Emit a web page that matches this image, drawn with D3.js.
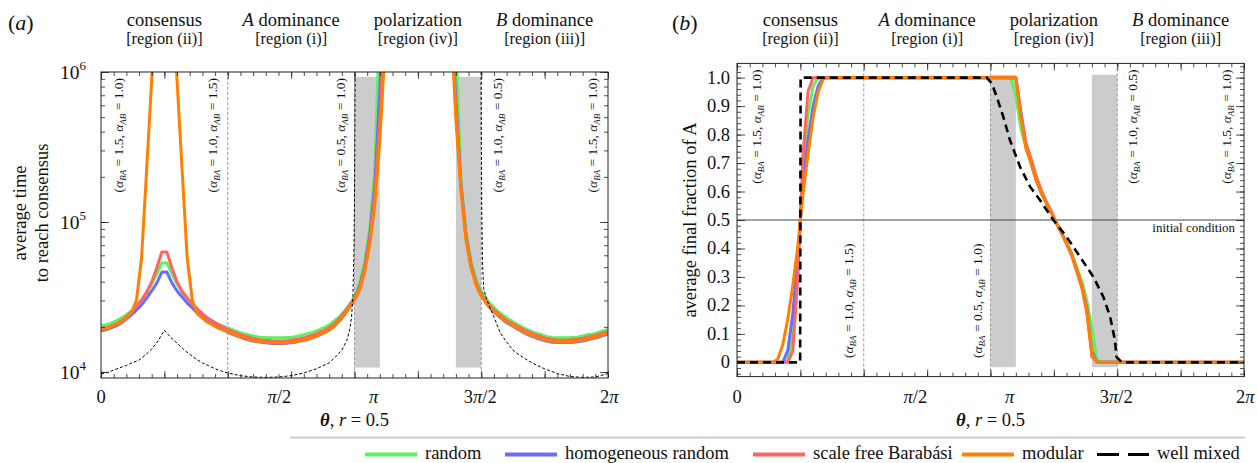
<!DOCTYPE html>
<html>
<head>
<meta charset="utf-8">
<script src="https://cdn.jsdelivr.net/npm/d3@7"></script>
<style>
  body { margin: 0; background: #fff; }
  svg text { font-family: "Liberation Serif", "Times New Roman", serif; fill: #111; }
</style>
</head>
<body>
<div id="chart"></div>
<script>
const PI = Math.PI;
const width = 1257, height = 463;

// simulation grid: 101 angles, step 2π/100
const thetaGrid = d3.range(101).map(k => k * PI / 50);

const seriesNames = ["random", "homogeneous random", "scale free Barabási", "modular"];
const seriesColors = ["#5ef05e", "#6b6bff", "#ff6464", "#ff8000"];

// (a) average time to reach consensus, thousands of steps (null = no consensus / off scale)
const timeRandom = [
  20.3, 20.6, 21.2, 21.9, 22.9, 24.0, 25.5, 27.5, 30.2, 33.7,
  38.6, 45.0, 53.3, 53.3, 45.0, 38.6, 34.1, 30.7, 28.0, 25.9,
  24.4, 22.9, 21.9, 20.9, 20.3, 19.7, 19.1, 18.5, 18.1, 17.7,
  17.4, 17.1, 17.0, 16.9, 16.9, 16.9, 16.9, 17.0, 17.1, 17.4,
  17.7, 18.1, 18.5, 19.1, 19.8, 20.6, 21.9, 23.3, 25.5, 28.0,
  31.6, 39.2, 54.1, 91.2, 222, 2440, null, null, null, null,
  null, null, null, null, null, null, null, null, null, null,
  1585, 190.5, 85.8, 54.1, 41.1, 34.7, 30.7, 28.0, 25.9, 24.4,
  22.9, 21.9, 20.9, 20.0, 19.2, 18.6, 18.1, 17.7, 17.2, 17.0,
  16.9, 16.9, 16.9, 17.0, 17.1, 17.4, 17.7, 17.9, 18.3, 18.8, 19.2];
const timeHomogeneous = [
  18.8, 19.1, 19.7, 20.3, 21.2, 22.6, 24.0, 25.9, 28.0, 31.1,
  34.7, 39.2, 46.4, 46.4, 39.2, 34.7, 31.6, 28.8, 26.7, 24.7,
  23.3, 21.9, 20.9, 20.0, 19.2, 18.4, 17.8, 17.3, 16.8, 16.4,
  16.1, 15.9, 15.7, 15.6, 15.5, 15.5, 15.5, 15.6, 15.7, 16.0,
  16.2, 16.6, 17.0, 17.6, 18.2, 19.0, 20.2, 21.9, 24.2, 27.1,
  30.7, 37.2, 50.1, 81.0, 175, 759, 4100, null, null, null,
  null, null, null, null, null, null, null, null, null, 3020,
  651, 176, 80.9, 51.8, 39.2, 33.1, 28.6, 26.1, 24.2, 22.7,
  21.3, 20.4, 19.5, 18.6, 17.9, 17.3, 16.8, 16.4, 16.0, 15.8,
  15.7, 15.7, 15.7, 15.8, 15.9, 16.1, 16.4, 16.7, 17.0, 17.5, 17.9];
const timeScaleFree = [
  19.4, 19.7, 20.3, 20.9, 21.9, 23.3, 25.1, 27.5, 30.2, 34.1,
  39.8, 49.4, 63.1, 63.1, 49.4, 39.8, 34.7, 31.1, 28.4, 26.3,
  24.4, 22.9, 21.9, 20.9, 20.0, 19.2, 18.6, 18.0, 17.5, 17.1,
  16.7, 16.5, 16.3, 16.2, 16.1, 16.1, 16.1, 16.2, 16.4, 16.6,
  16.9, 17.3, 17.7, 18.3, 18.9, 19.8, 21.0, 22.7, 24.9, 27.8,
  31.0, 36.5, 49.0, 76.0, 150, 480, 2500, null, null, null,
  null, null, null, null, null, null, null, null, null, 2600,
  560, 170, 78.0, 50.5, 38.6, 32.6, 29.4, 26.9, 25.0, 23.5,
  22.1, 21.2, 20.3, 19.4, 18.7, 18.1, 17.5, 17.1, 16.7, 16.5,
  16.3, 16.3, 16.3, 16.5, 16.6, 16.8, 17.1, 17.4, 17.7, 18.2, 18.6];
const timeModular = [
  19.1, 19.4, 20.0, 20.6, 21.5, 22.9, 24.7, 30.2, 57.5, 222,
  884, 3260, 7590, 7590, 3260, 884, 222, 57.5, 30.2, 24.4,
  22.9, 21.5, 20.6, 19.7, 19.1, 18.5, 17.9, 17.4, 16.9, 16.5,
  16.2, 16.0, 15.85, 15.7, 15.6, 15.6, 15.6, 15.7, 15.85, 16.1,
  16.3, 16.8, 17.1, 17.7, 18.3, 19.1, 20.3, 21.9, 24.0, 26.7,
  30.2, 35.2, 46.4, 70.3, 130, 352, 1400, null, null, null,
  null, null, null, null, null, null, null, null, null, 2220,
  479, 163, 75.9, 49.4, 38.0, 32.1, 28.8, 26.3, 24.4, 22.9,
  21.5, 20.6, 19.7, 18.8, 18.1, 17.5, 17.0, 16.6, 16.2, 16.0,
  15.85, 15.85, 15.85, 16.0, 16.1, 16.3, 16.6, 16.9, 17.2, 17.7, 18.1];

// (a) well mixed: angle in units of π, time in thousands
const wellMixedThetaA = [0, 0.025, 0.05, 0.075, 0.1, 0.125, 0.15, 0.175, 0.2, 0.225,
  0.25, 0.275, 0.3, 0.325, 0.35, 0.375, 0.4, 0.425, 0.45, 0.475,
  0.5, 0.55, 0.6, 0.65, 0.7, 0.75, 0.8, 0.85, 0.9, 0.925,
  0.95, 0.97, 0.98, 0.988, 0.994, 0.998, 1.0, 1.002, 1.003, 1.25,
  1.499, 1.5, 1.502, 1.505, 1.51, 1.52, 1.535, 1.55, 1.575, 1.6,
  1.625, 1.65, 1.7, 1.75, 1.8, 1.85, 1.9, 1.95, 2.0];
const wellMixedTimeA = [9.7, 9.92, 10.3, 10.7, 11.05, 11.55, 12.0, 13.0, 14.2, 16.1,
  19.0, 17.0, 15.6, 14.2, 13.1, 12.2, 11.5, 11.0, 10.5, 10.15,
  9.85, 9.45, 9.26, 9.2, 9.26, 9.45, 9.85, 10.5, 11.5, 12.6,
  14.0, 16.3, 18.8, 22.9, 32.6, 65, 140, 650, 2000, null,
  2000, 479, 120, 51.8, 35.8, 31.1, 26.7, 23.3, 18.2, 15.85,
  14.0, 12.98, 11.5, 10.5, 9.77, 9.33, 9.2, 9.26, 9.77];

// (b) average final fraction of A
const fracRandom = [
  0, 0, 0, 0, 0, 0, 0, 0, 0, 0,
  0.01, 0.10, 0.34, 0.66, 0.87, 0.97, 1, 1, 1, 1,
  1, 1, 1, 1, 1, 1, 1, 1, 1, 1,
  1, 1, 1, 1, 1, 1, 1, 1, 1, 1,
  1, 1, 1, 1, 1, 1, 1, 1, 1, 1,
  1, 1, 1, 1, 1, 0.935, 0.82, 0.755, 0.70, 0.645,
  0.60, 0.56, 0.525, 0.49, 0.455, 0.42, 0.385, 0.335, 0.285, 0.215,
  0.12, 0.01, 0, 0, 0, 0, 0, 0, 0, 0,
  0, 0, 0, 0, 0, 0, 0, 0, 0, 0,
  0, 0, 0, 0, 0, 0, 0, 0, 0, 0, 0];
const fracHomogeneous = [
  0, 0, 0, 0, 0, 0, 0, 0, 0, 0,
  0.04, 0.17, 0.37, 0.62, 0.78, 0.90, 0.97, 1, 1, 1,
  1, 1, 1, 1, 1, 1, 1, 1, 1, 1,
  1, 1, 1, 1, 1, 1, 1, 1, 1, 1,
  1, 1, 1, 1, 1, 1, 1, 1, 1, 1,
  1, 1, 1, 1, 1, 1, 0.88, 0.765, 0.70, 0.64,
  0.595, 0.56, 0.525, 0.49, 0.455, 0.42, 0.38, 0.325, 0.27, 0.19,
  0.04, 0, 0, 0, 0, 0, 0, 0, 0, 0,
  0, 0, 0, 0, 0, 0, 0, 0, 0, 0,
  0, 0, 0, 0, 0, 0, 0, 0, 0, 0, 0];
const fracScaleFree = [
  0, 0, 0, 0, 0, 0, 0, 0, 0, 0,
  0, 0.04, 0.30, 0.72, 0.95, 1, 1, 1, 1, 1,
  1, 1, 1, 1, 1, 1, 1, 1, 1, 1,
  1, 1, 1, 1, 1, 1, 1, 1, 1, 1,
  1, 1, 1, 1, 1, 1, 1, 1, 1, 1,
  1, 1, 1, 1, 1, 1, 0.87, 0.77, 0.715, 0.655,
  0.605, 0.565, 0.53, 0.49, 0.455, 0.415, 0.375, 0.32, 0.262, 0.175,
  0.02, 0, 0, 0, 0, 0, 0, 0, 0, 0,
  0, 0, 0, 0, 0, 0, 0, 0, 0, 0,
  0, 0, 0, 0, 0, 0, 0, 0, 0, 0, 0];
const fracModular = [
  0, 0, 0, 0, 0, 0, 0, 0, 0.01, 0.06,
  0.15, 0.27, 0.41, 0.59, 0.73, 0.86, 0.95, 0.995, 1, 1,
  1, 1, 1, 1, 1, 1, 1, 1, 1, 1,
  1, 1, 1, 1, 1, 1, 1, 1, 1, 1,
  1, 1, 1, 1, 1, 1, 1, 1, 1, 1,
  1, 1, 1, 1, 1, 1, 0.86, 0.75, 0.70, 0.64,
  0.595, 0.56, 0.525, 0.49, 0.455, 0.42, 0.38, 0.325, 0.27, 0.183,
  0.03, 0, 0, 0, 0, 0, 0, 0, 0, 0,
  0, 0, 0, 0, 0, 0, 0, 0, 0, 0,
  0, 0, 0, 0, 0, 0, 0, 0, 0, 0, 0];

// (b) well mixed, angle in units of π
const wellMixedThetaB = [0, 0.249, 0.251, 0.985, 1.005, 1.024, 1.05, 1.077, 1.116, 1.156,
  1.195, 1.248, 1.30, 1.353, 1.406, 1.445, 1.472, 1.491, 1.497, 1.518, 2.0];
const wellMixedFracB = [0, 0, 1, 1, 0.98, 0.934, 0.864, 0.78, 0.688, 0.617,
  0.57, 0.5, 0.441, 0.371, 0.30, 0.23, 0.16, 0.077, 0.019, 0, 0];

// shaded bands (units of π)
const bandFrom = [1.0, 1.4];
const bandTo = [1.1, 1.5];

const regionTitles = ["consensus", "A dominance", "polarization", "B dominance"];
const regionTags = ["[region (ii)]", "[region (i)]", "[region (iv)]", "[region (iii)]"];

// x tick labels and the angles they are printed at in the original
const xTickText = ["0", "π/2", "π", "3π/2", "2π"];
const xTickTheta = [0, 2.21, 3.38, 4.70, 6.30];

// boundary annotations (α_BA, α_AB)
const annoBA = ["1.5", "1.0", "0.5", "1.0", "1.5"];
const annoAB = ["1.0", "1.5", "1.0", "0.5", "1.0"];
const annoThetaA = [0.071, 0.44, 0.943, 1.565, 1.94];
const annoThetaB = [0.079, 0.438, 0.947, 1.562, 1.933];
const annoLowB = [false, true, true, false, false];

// ---------------------------------------------------------------
const svg = d3.select("#chart").append("svg")
  .attr("width", width)
  .attr("height", height)
  .attr("viewBox", [0, 0, width, height]);

const pA = {left: 101, right: 608, top: 72, bottom: 378, letterX: 8};
const pB = {left: 737, right: 1244, top: 63.4, bottom: 376.6, letterX: 672};

const xA = d3.scaleLinear().domain([0, 2 * PI]).range([pA.left, pA.right]);
const yA = d3.scaleLog().domain([9120, 1e6]).range([pA.bottom, pA.top]);
const xB = d3.scaleLinear().domain([0, 2 * PI]).range([pB.left, pB.right]);
const yB = d3.scaleLinear().domain([-0.05, 1.05]).range([pB.bottom, pB.top]);

function clipFor(id, p) {
  svg.append("clipPath").attr("id", id)
    .append("rect")
    .attr("x", p.left).attr("y", p.top)
    .attr("width", p.right - p.left).attr("height", p.bottom - p.top);
}
clipFor("clipA", pA);
clipFor("clipB", pB);

// text with italic π / A / B
function richText(sel, str) {
  str.split(/([πAB])/).filter(s => s.length).forEach(s => {
    const t = sel.append("tspan").text(s);
    if (/[πAB]/.test(s)) t.style("font-style", "italic");
  });
}

function tickAxis(g, axisFn, scale, values, size, transform) {
  g.append("g")
    .attr("transform", transform)
    .call(axisFn(scale).tickValues(values).tickSize(-size).tickFormat("").tickSizeOuter(0))
    .call(a => a.select(".domain").remove())
    .selectAll(".tick line").attr("stroke", "#222").attr("stroke-width", 0.8);
}

function drawCommon(p, x, y, clipId, yMinor, yMajor, annoTheta, annoLow, label) {
  const g = svg.append("g");
  const plot = g.append("g").attr("clip-path", `url(#${clipId})`);

  // grey bands
  plot.selectAll("rect.band")
    .data(bandFrom)
    .join("rect")
    .attr("class", "band")
    .attr("x", d => x(d * PI))
    .attr("width", (d, i) => x(bandTo[i] * PI) - x(d * PI))
    .attr("fill", "#cccccc");

  // region boundaries
  plot.selectAll("line.bound")
    .data([0.5, 1, 1.5])
    .join("line")
    .attr("class", "bound")
    .attr("x1", d => x(d * PI)).attr("x2", d => x(d * PI))
    .attr("y1", p.top).attr("y2", p.bottom)
    .attr("stroke", "#9a9a9a").attr("stroke-width", 1)
    .attr("stroke-dasharray", "3,2");

  // frame ticks
  const xMinor = d3.range(41).map(i => i * PI / 20);
  const xMajor = d3.range(9).map(i => i * PI / 4);
  tickAxis(g, d3.axisBottom, x, xMinor, 4, `translate(0,${p.bottom})`);
  tickAxis(g, d3.axisBottom, x, xMajor, 7, `translate(0,${p.bottom})`);
  tickAxis(g, d3.axisTop, x, xMinor, 4, `translate(0,${p.top})`);
  tickAxis(g, d3.axisTop, x, xMajor, 7, `translate(0,${p.top})`);
  tickAxis(g, d3.axisLeft, y, yMinor, 4, `translate(${p.left},0)`);
  tickAxis(g, d3.axisLeft, y, yMajor, 8, `translate(${p.left},0)`);
  tickAxis(g, d3.axisRight, y, yMinor, 4, `translate(${p.right},0)`);
  tickAxis(g, d3.axisRight, y, yMajor, 8, `translate(${p.right},0)`);

  // x tick labels
  xTickText.forEach((s, i) => {
    const t = g.append("text")
      .attr("x", x(xTickTheta[i]))
      .attr("y", 403)
      .attr("text-anchor", "middle")
      .style("font-size", "18.5px");
    richText(t, s);
  });

  // x axis title
  const xt = g.append("text")
    .attr("x", x(PI)).attr("y", 426)
    .attr("text-anchor", "middle")
    .style("font-size", "18.5px");
  xt.append("tspan").style("font-style", "italic").style("font-weight", "bold").text("θ");
  xt.append("tspan").text(", ");
  xt.append("tspan").style("font-style", "italic").text("r");
  xt.append("tspan").text(" = 0.5");

  // region headers
  regionTitles.forEach((s, i) => {
    const cx = x((2 * i + 1) * PI / 4);
    const t = g.append("text").attr("x", cx).attr("y", 26)
      .attr("text-anchor", "middle").style("font-size", "18.5px");
    richText(t, s);
    g.append("text").attr("x", cx).attr("y", 44)
      .attr("text-anchor", "middle").style("font-size", "16.3px")
      .text(regionTags[i]);
  });

  // boundary annotations
  annoTheta.forEach((th, i) => {
    const low = annoLow[i];
    const t = g.append("text")
      .attr("transform", `translate(${x(th * PI)},${low ? 358 : p.top + 6}) rotate(-90)`)
      .attr("text-anchor", low ? "start" : "end")
      .attr("dy", "0.33em")
      .style("font-size", "13.5px");
    t.append("tspan").text("(");
    t.append("tspan").style("font-style", "italic").text("α");
    t.append("tspan").style("font-style", "italic").style("font-size", "9px").attr("dy", 3).text("BA");
    t.append("tspan").attr("dy", -3).text(" = " + annoBA[i] + ", ");
    t.append("tspan").style("font-style", "italic").text("α");
    t.append("tspan").style("font-style", "italic").style("font-size", "9px").attr("dy", 3).text("AB");
    t.append("tspan").attr("dy", -3).text(" = " + annoAB[i] + ")");
  });

  // panel letter
  const lt = g.append("text").attr("x", p.letterX).attr("y", 30)
    .style("font-size", "22px");
  lt.append("tspan").text("(");
  lt.append("tspan").style("font-style", "italic").text(label);
  lt.append("tspan").text(")");

  return {g, plot};
}

// ---------------- panel (a) ----------------
const logMinor = [];
[1e4, 1e5].forEach(b => d3.range(1, 10).forEach(m => logMinor.push(b * m)));
logMinor.push(1e6);
const panA = drawCommon(pA, xA, yA, "clipA", logMinor, [1e4, 1e5, 1e6], annoThetaA, [false, false, false, false, false], "a");
panA.plot.selectAll("rect.band")
  .attr("y", yA(930000)).attr("height", yA(10700) - yA(930000));

const lineA = d3.line()
  .defined(d => d[1] != null)
  .x(d => xA(d[0]))
  .y(d => yA(d[1] * 1000));

[timeRandom, timeHomogeneous, timeScaleFree, timeModular].forEach((s, i) => {
  panA.plot.append("path")
    .datum(thetaGrid.map((t, k) => [t, s[k]]))
    .attr("fill", "none")
    .attr("stroke", seriesColors[i])
    .attr("stroke-width", 3)
    .attr("stroke-linejoin", "round")
    .attr("d", lineA);
});
panA.plot.append("path")
  .datum(wellMixedThetaA.map((t, k) => [t * PI, wellMixedTimeA[k]]))
  .attr("fill", "none")
  .attr("stroke", "#000")
  .attr("stroke-width", 1)
  .attr("stroke-dasharray", "3,2")
  .attr("d", lineA);

panA.g.append("rect")
  .attr("x", pA.left).attr("y", pA.top)
  .attr("width", pA.right - pA.left).attr("height", pA.bottom - pA.top)
  .attr("fill", "none").attr("stroke", "#222").attr("stroke-width", 1);

[1e4, 1e5, 1e6].forEach(v => {
  const t = panA.g.append("text")
    .attr("x", pA.left - 15).attr("y", yA(v) + 7)
    .attr("text-anchor", "end")
    .style("font-size", "19.5px")
    .text("10");
  t.append("tspan").attr("dy", -9).style("font-size", "13px").text(Math.round(Math.log10(v)));
});

const yta = panA.g.append("g").attr("transform", "translate(0,213) rotate(-90)");
yta.append("text").attr("x", 0).attr("y", 26).attr("text-anchor", "middle")
  .style("font-size", "18.5px").text("average time");
yta.append("text").attr("x", 0).attr("y", 48).attr("text-anchor", "middle")
  .style("font-size", "18.5px").text("to reach consensus");

// ---------------- panel (b) ----------------
const fracMinor = d3.range(-2, 53).map(i => i / 50);
const fracMajor = d3.range(0, 11).map(i => i / 10);
const panB = drawCommon(pB, xB, yB, "clipB", fracMinor, fracMajor, annoThetaB, annoLowB, "b");
panB.plot.selectAll("rect.band")
  .attr("y", yB(1.01)).attr("height", yB(-0.017) - yB(1.01));

panB.plot.append("line")
  .attr("x1", pB.left).attr("x2", pB.right)
  .attr("y1", yB(0.5)).attr("y2", yB(0.5))
  .attr("stroke", "#444").attr("stroke-width", 1);

panB.g.append("text")
  .attr("x", pB.right - 9).attr("y", yB(0.5) + 12)
  .attr("text-anchor", "end")
  .style("font-size", "13px")
  .text("initial condition");

const lineB = d3.line()
  .x(d => xB(d[0]))
  .y(d => yB(d[1]));

[fracRandom, fracHomogeneous, fracScaleFree, fracModular].forEach((s, i) => {
  panB.plot.append("path")
    .datum(thetaGrid.map((t, k) => [t, s[k]]))
    .attr("fill", "none")
    .attr("stroke", seriesColors[i])
    .attr("stroke-width", 3)
    .attr("stroke-linejoin", "round")
    .attr("d", lineB);
});
panB.plot.append("path")
  .datum(wellMixedThetaB.map((t, k) => [t * PI, wellMixedFracB[k]]))
  .attr("fill", "none")
  .attr("stroke", "#000")
  .attr("stroke-width", 2.6)
  .attr("stroke-dasharray", "8,5")
  .attr("d", lineB);

panB.g.append("rect")
  .attr("x", pB.left).attr("y", pB.top)
  .attr("width", pB.right - pB.left).attr("height", pB.bottom - pB.top)
  .attr("fill", "none").attr("stroke", "#222").attr("stroke-width", 1);

fracMajor.forEach(v => {
  panB.g.append("text")
    .attr("x", pB.left - 7).attr("y", yB(v) + 6)
    .attr("text-anchor", "end")
    .style("font-size", "18.5px")
    .text(v === 0 ? "0" : d3.format(".1f")(v));
});

panB.g.append("text")
  .attr("transform", `translate(696,220) rotate(-90)`)
  .attr("text-anchor", "middle")
  .style("font-size", "18.5px")
  .text("average final fraction of A");

// ---------------- legend ----------------
svg.append("line")
  .attr("x1", 290).attr("x2", 1245)
  .attr("y1", 437.5).attr("y2", 437.5)
  .attr("stroke", "#cccccc").attr("stroke-width", 2);

const legendX = [365, 505, 753, 962, 1097];
const legendNames = seriesNames.concat(["well mixed"]);
legendNames.forEach((name, i) => {
  const lx = legendX[i];
  const l = svg.append("line")
    .attr("x1", lx).attr("x2", lx + 52)
    .attr("y1", 454.5).attr("y2", 454.5)
    .attr("stroke", i < 4 ? seriesColors[i] : "#000")
    .attr("stroke-width", i < 4 ? 4 : 3);
  if (i === 4) l.attr("stroke-dasharray", "22,9");
  svg.append("text")
    .attr("x", lx + 60).attr("y", 459)
    .style("font-size", "18.5px")
    .text(name);
});
</script>
</body>
</html>
